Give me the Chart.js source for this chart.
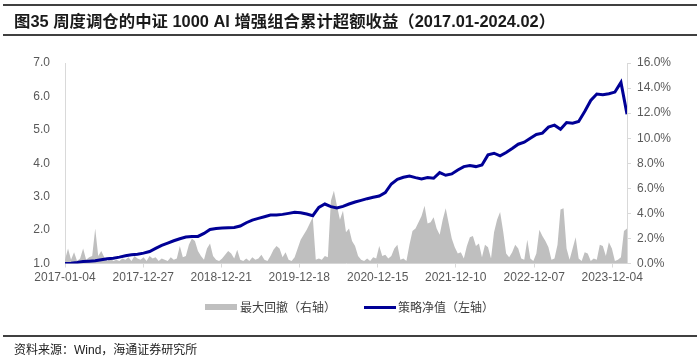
<!DOCTYPE html>
<html>
<head>
<meta charset="utf-8">
<script src="https://cdn.jsdelivr.net/npm/chart.js@4.4.0/dist/chart.umd.min.js"></script>
<style>
    body { margin: 0; background: #fff; }
    .wrap { position: relative; width: 699px; height: 361px; overflow: hidden; font-family: "Liberation Sans", "Noto Sans CJK SC", sans-serif; }
    .wrap canvas { position: absolute; left: 0; top: 0; }
    .rule { position: absolute; left: 3px; width: 694px; height: 1.5px; background: #404040; }
    .title { position: absolute; left: 14px; top: 11px; font-size: 16.4px; font-weight: bold; color: #1a1a1a; white-space: nowrap; line-height: 20px; }
    .legend { position: absolute; top: 299px; font-size: 12px; color: #404040; font-family: "Noto Sans CJK SC", sans-serif; line-height: 16px; white-space: nowrap; }
    .swatch { position: absolute; }
    .source { position: absolute; left: 14px; top: 342px; font-size: 12px; color: #1a1a1a; font-family: "Liberation Sans", "Noto Sans CJK SC", sans-serif; white-space: nowrap; line-height: 16px; }
</style>
</head>
<body>
<div class="wrap">
    <canvas id="navChart" width="699" height="361"></canvas>
    <div class="rule" style="top:4px"></div>
    <div class="title">图35 周度调仓的中证 1000 AI 增强组合累计超额收益（2017.01-2024.02）</div>
    <div class="rule" style="top:34px"></div>
    <div class="swatch" style="left:205px;top:304px;width:32px;height:6px;background:#bfbfbf"></div>
    <div class="legend" style="left:240px">最大回撤（右轴）</div>
    <div class="swatch" style="left:364px;top:305.5px;width:32px;height:3px;background:#000096"></div>
    <div class="legend" style="left:398px">策略净值（左轴）</div>
    <div class="rule" style="top:335px"></div>
    <div class="source">资料来源：Wind，海通证券研究所</div>
</div>
<script>
// tick labels and where they sit on the index axis (0..186)
const tickLabels = ['2017-01-04', '2017-12-27', '2018-12-21', '2019-12-18', '2020-12-15', '2021-12-10', '2022-12-07', '2023-12-04'];
const tickPos = [0, 25.9, 51.7, 77.5, 103.5, 129.3, 155.3, 181.1];

// strategy net value (left axis), one value every 2 index steps
const navValues = [
    1.00, 1.01, 1.03, 1.06, 1.07, 1.08, 1.11, 1.14, 1.16, 1.19,
    1.23, 1.26, 1.28, 1.31, 1.36, 1.45, 1.54, 1.61, 1.68, 1.74,
    1.79, 1.81, 1.81, 1.90, 2.02, 2.05, 2.06, 2.07, 2.08, 2.12,
    2.22, 2.30, 2.35, 2.40, 2.45, 2.45, 2.47, 2.50, 2.53, 2.52,
    2.48, 2.43, 2.68, 2.78, 2.70, 2.66, 2.71, 2.78, 2.84, 2.89,
    2.94, 2.98, 3.02, 3.12, 3.38, 3.52, 3.58, 3.62, 3.57, 3.53,
    3.57, 3.55, 3.72, 3.64, 3.68, 3.80, 3.90, 3.93, 3.90, 3.95,
    4.25, 4.30, 4.22, 4.32, 4.44, 4.57, 4.63, 4.75, 4.86, 4.90,
    5.08, 5.14, 5.02, 5.22, 5.20, 5.25, 5.55, 5.88, 6.07, 6.05,
    6.08, 6.13, 6.42, 5.47
];

// max drawdown in % (right axis), one value per index step
const drawdown = [
    0.3, 1.2, 0.3, 0.9, 0.2, 0.4, 1.2, 0.3, 0.5, 0.6,
    2.8, 0.6, 1.0, 0.5, 0.2, 0.4, 0.2, 0.3, 0.2, 0.4,
    0.3, 0.5, 0.2, 0.6, 0.4, 0.3, 0.5, 0.2, 0.6, 0.4,
    0.5, 0.2, 0.4, 0.3, 0.2, 0.5, 0.3, 0.4, 1.4, 0.5,
    0.6, 1.5, 2.0, 1.8, 1.0, 0.6, 0.3, 1.2, 1.6, 0.6,
    0.3, 0.2, 0.4, 0.7, 1.0, 0.8, 0.4, 1.1, 0.3, 0.2,
    0.4, 0.2, 0.5, 0.3, 0.4, 0.7, 0.3, 0.2, 0.6, 1.1,
    1.4, 1.2, 0.5, 0.9, 0.3, 0.2, 0.5, 1.2, 1.9, 2.3,
    2.7, 3.2, 3.7, 0.3, 0.4, 0.3, 0.6, 0.5, 5.0, 5.8,
    4.6, 3.5, 4.2, 2.5, 2.8, 1.8, 1.4, 0.6, 0.3, 0.2,
    0.4, 0.2, 0.5, 0.4, 1.4, 0.6, 0.7, 0.4, 0.6, 1.2,
    1.5, 0.3, 0.4, 0.2, 1.5, 2.6, 2.8, 3.3, 3.8, 4.6,
    3.2, 3.3, 3.7, 2.8, 2.3, 3.5, 4.4, 3.2, 2.0, 1.3,
    0.8, 0.9, 0.4, 1.4, 2.1, 2.2, 1.4, 1.6, 0.5, 1.5,
    1.3, 0.4, 2.5, 3.5, 4.1, 2.6, 0.8, 0.5, 0.9, 1.5,
    1.2, 0.4, 0.3, 1.9, 0.4, 0.2, 0.8, 2.7, 2.2, 1.8,
    1.3, 0.3, 0.4, 1.5, 4.3, 4.4, 1.2, 0.3, 1.2, 2.1,
    0.4, 0.2, 0.9, 0.8, 0.2, 0.4, 0.3, 1.5, 1.4, 0.6,
    1.7, 1.2, 0.2, 0.3, 0.5, 2.6, 2.8
];

const navPoints = navValues.map((v, i) => ({ x: i * 2, y: v }));
const ddPoints = drawdown.map((v, i) => ({ x: i, y: v }));

const tickFont = { family: 'Liberation Sans', size: 12 };

const ctx = document.getElementById('navChart').getContext('2d');
const navChart = new Chart(ctx, {
    type: 'line',
    data: {
        datasets: [{
            label: '策略净值（左轴）',
            data: navPoints,
            yAxisID: 'y',
            borderColor: '#000096',
            borderWidth: 3,
            pointRadius: 0,
            tension: 0,
            fill: false,
            order: 1
        }, {
            label: '最大回撤（右轴）',
            data: ddPoints,
            yAxisID: 'y2',
            borderWidth: 0,
            borderColor: '#bfbfbf',
            backgroundColor: '#bfbfbf',
            pointRadius: 0,
            tension: 0,
            fill: 'origin',
            order: 2
        }]
    },
    options: {
        responsive: false,
        animation: false,
        layout: { padding: { top: 63, left: 0, right: 0, bottom: 0 } },
        scales: {
            x: {
                type: 'linear',
                min: 0,
                max: 186,
                afterBuildTicks: axis => { axis.ticks = tickPos.map(v => ({ value: v })); },
                afterFit: axis => { axis.height = 97.5; },
                ticks: {
                    autoSkip: false,
                    maxRotation: 0,
                    padding: 3,
                    color: '#595959',
                    font: tickFont,
                    callback: (v, i) => tickLabels[i]
                },
                grid: { drawOnChartArea: false, drawTicks: true, tickLength: 4, color: '#d9d9d9' },
                border: { display: true, color: '#d9d9d9' }
            },
            y: {
                position: 'left',
                min: 1,
                max: 7,
                afterFit: axis => { axis.width = 65; },
                ticks: {
                    stepSize: 1,
                    padding: 15,
                    color: '#595959',
                    font: tickFont,
                    callback: v => v.toFixed(1)
                },
                grid: { drawOnChartArea: false, drawTicks: false },
                border: { display: true, color: '#d9d9d9' }
            },
            y2: {
                position: 'right',
                min: 0,
                max: 16,
                afterFit: axis => { axis.width = 72; },
                ticks: {
                    stepSize: 2,
                    padding: 6,
                    color: '#595959',
                    font: tickFont,
                    callback: v => v.toFixed(1) + '%'
                },
                grid: { drawOnChartArea: false, drawTicks: true, tickLength: 4, color: '#d9d9d9' },
                border: { display: true, color: '#d9d9d9' }
            }
        },
        plugins: {
            legend: { display: false },
            tooltip: { enabled: false }
        }
    }
});
</script>
</body>
</html>
